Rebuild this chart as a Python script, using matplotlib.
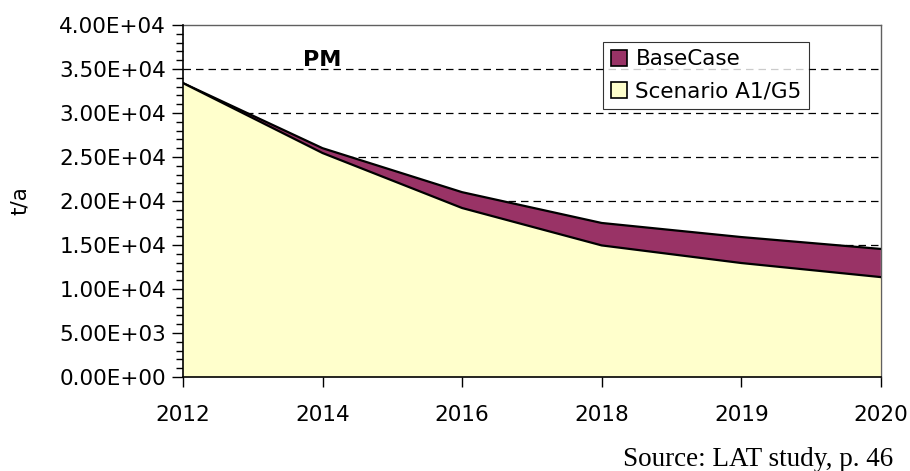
import matplotlib.pyplot as plt
from matplotlib.ticker import MultipleLocator
from matplotlib.patches import Patch

# data (t/a)
years = ['2012', '2014', '2016', '2018', '2019', '2020']
base_case = [33400, 26000, 21000, 17500, 15900, 14550]
scenario = [33400, 25450, 19200, 14950, 12950, 11350]

base_col = '#993366'
scen_col = '#FFFFCC'

plt.rcParams['font.family'] = 'DejaVu Sans'

fig = plt.figure(figsize=(9.1, 4.71), dpi=100)
ax = fig.add_axes([0.201, 0.1996, 0.767, 0.7474])

x = list(range(len(years)))

# dashed grid under the areas
for yv in range(5000, 40000, 5000):
    ax.axhline(yv, color='black', lw=0.9, ls=(0, (6, 4)), zorder=1)

ax.fill_between(x, 0, base_case, facecolor=base_col, edgecolor='none', zorder=2)
ax.plot(x, base_case, color='black', lw=1.6, zorder=3)
ax.fill_between(x, 0, scenario, facecolor=scen_col, edgecolor='none', zorder=4)
ax.plot(x, scenario, color='black', lw=1.6, zorder=5)

ax.set_xlim(0, len(years) - 1)
ax.set_ylim(0, 40000)
ax.set_xticks(x)
ax.set_xticklabels(years, fontsize=15.5)
ax.yaxis.set_major_locator(MultipleLocator(5000))
ax.yaxis.set_minor_locator(MultipleLocator(1000))
ax.set_yticklabels(['%.2E' % v for v in ax.get_yticks()], fontsize=15.5)
ax.tick_params(axis='y', which='major', length=8, width=1, pad=4)
ax.tick_params(axis='y', which='minor', length=5, width=1)
ax.tick_params(axis='x', which='major', length=7, width=1, pad=13)

for s in ['left', 'bottom']:
    ax.spines[s].set_linewidth(1.2)
    ax.spines[s].set_zorder(6)
for s in ['top', 'right']:
    ax.spines[s].set_color('#606060')
    ax.spines[s].set_linewidth(1.0)

ax.set_ylabel('t/a', fontsize=15.5, labelpad=21)

ax.text(1, 36000, 'PM', fontsize=16, fontweight='bold', ha='center', va='center')

handles = [Patch(facecolor=base_col, edgecolor='black', lw=1.2),
           Patch(facecolor=scen_col, edgecolor='black', lw=1.2)]
leg = ax.legend(handles, ['BaseCase', 'Scenario A1/G5'], fontsize=15.5,
                loc='upper left', bbox_to_anchor=(0.602, 0.952), frameon=True,
                fancybox=False, handlelength=0.75, handleheight=0.75,
                handletextpad=0.4, borderpad=0.35, labelspacing=0.55,
                borderaxespad=0)
leg.get_frame().set_edgecolor('black')
leg.get_frame().set_linewidth(0.8)
leg.set_zorder(10)

fig.text(0.982, -0.003, 'Source: LAT study, p. 46', fontsize=19.5,
         family='Liberation Serif', ha='right', va='bottom')

fig.savefig('out.png', dpi=100)
